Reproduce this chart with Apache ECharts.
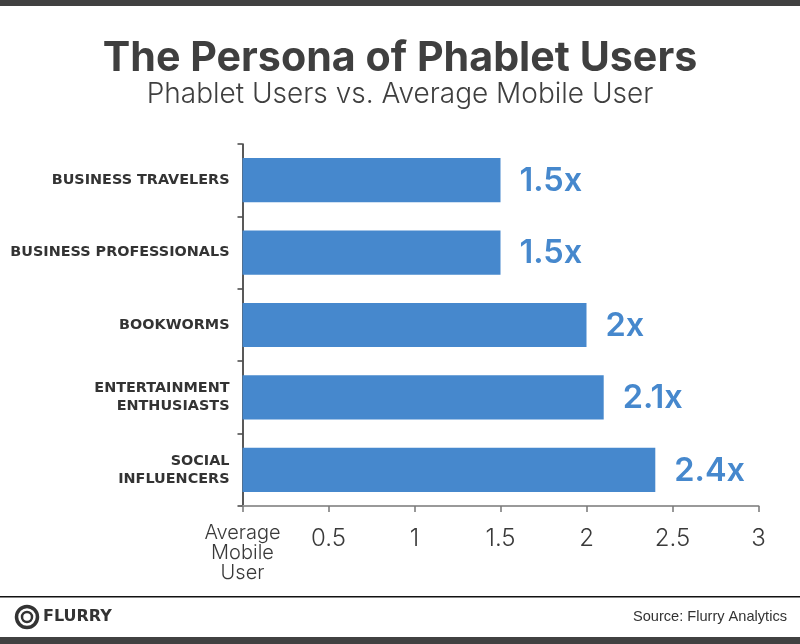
<!DOCTYPE html>
<html>
<head>
<meta charset="utf-8">
<title>The Persona of Phablet Users</title>
<style>
html, body { margin: 0; padding: 0; background: #fff; }
#chart { width: 800px; height: 644px; }
</style>
<script src="https://cdn.jsdelivr.net/npm/echarts@6/dist/echarts.min.js"></script>
</head>
<body>
<div id="chart"></div>
<script>
var categories = ['BUSINESS TRAVELERS', 'BUSINESS PROFESSIONALS', 'BOOKWORMS', 'ENTERTAINMENT\nENTHUSIASTS', 'SOCIAL\nINFLUENCERS'];
var multiples = [1.5, 1.5, 2, 2.1, 2.4];
var baselineLabel = ['Average', 'Mobile', 'User'];

var font = 'Inter';
var chart = echarts.init(document.getElementById('chart'));

chart.setOption({
    animation: false,
    backgroundColor: '#fff',
    title: [{
        text: 'The Persona of Phablet Users',
        left: 395, top: 33, textAlign: 'center',
        textStyle: {fontFamily: font, fontSize: 41.2, fontWeight: 700, color: '#3f3f3f'}
    }, {
        text: 'Phablet Users vs. Average Mobile User',
        left: 395, top: 76, textAlign: 'center',
        textStyle: {fontFamily: font, fontSize: 28, fontWeight: 300, color: '#3f3f3f'}
    }],
    grid: {left: 242.5, top: 144, width: 516, height: 362},
    xAxis: {
        type: 'value',
        min: 0, max: 3, interval: 0.5,
        splitLine: {show: false},
        axisLine: {show: true, lineStyle: {color: '#999', width: 2}},
        axisTick: {show: true, length: 6, lineStyle: {color: '#777', width: 1.5}},
        axisLabel: {
            margin: 17,
            color: '#3a3a3a',
            fontFamily: font,
            fontSize: 24,
            fontWeight: 300,
            showMinLabel: true,
            showMaxLabel: true,
            formatter: function (v) {
                if (v === 0) {
                    return '{base|' + baselineLabel.join('}\n{base|') + '}';
                }
                return '{num|' + v + '}';
            },
            rich: {
                base: {fontFamily: font, fontSize: 20, fontWeight: 300, lineHeight: 20, color: '#3a3a3a'},
                num: {fontFamily: font, fontSize: 24, fontWeight: 300, padding: [4, 0, 0, 0], color: '#3a3a3a'}
            }
        }
    },
    yAxis: {
        type: 'category',
        inverse: true,
        data: categories,
        axisLine: {show: true, lineStyle: {color: '#222', width: 1.5}},
        axisTick: {show: true, length: 5, lineStyle: {color: '#444', width: 1.5}},
        axisLabel: {
            margin: 13,
            color: '#333',
            fontFamily: 'DejaVu Sans',
            fontSize: 14.4,
            fontWeight: 700,
            lineHeight: 18,
            align: 'right'
        }
    },
    series: [{
        type: 'bar',
        data: multiples,
        barCategoryGap: '39%',
        itemStyle: {color: '#4688cd'},
        label: {
            show: true,
            position: 'right',
            distance: 19,
            offset: [0, 1],
            fontFamily: font,
            fontSize: 32.5,
            fontWeight: 600,
            color: '#4688cd',
            formatter: function (p) { return p.value + 'x'; }
        }
    }],
    graphic: [
        {type: 'rect', shape: {x: 0, y: 0, width: 800, height: 6}, style: {fill: '#414141'}},
        {type: 'rect', shape: {x: 0, y: 596, width: 800, height: 1.5}, style: {fill: '#111'}},
        {type: 'rect', shape: {x: 0, y: 637, width: 800, height: 7}, style: {fill: '#414141'}},
        {type: 'circle', shape: {cx: 27, cy: 617, r: 10.5}, style: {fill: 'none', stroke: '#333', lineWidth: 3.5}},
        {type: 'circle', shape: {cx: 27, cy: 617, r: 5}, style: {fill: 'none', stroke: '#333', lineWidth: 2.5}},
        {type: 'text', left: 43, top: 609, style: {text: 'FLURRY', fontFamily: 'DejaVu Sans', fontSize: 16, fontWeight: 700, fill: '#333'}},
        {type: 'text', right: 13, top: 609, style: {text: 'Source: Flurry Analytics', fontFamily: 'Liberation Sans', fontSize: 14.6, fill: '#333'}}
    ]
});
</script>
</body>
</html>
